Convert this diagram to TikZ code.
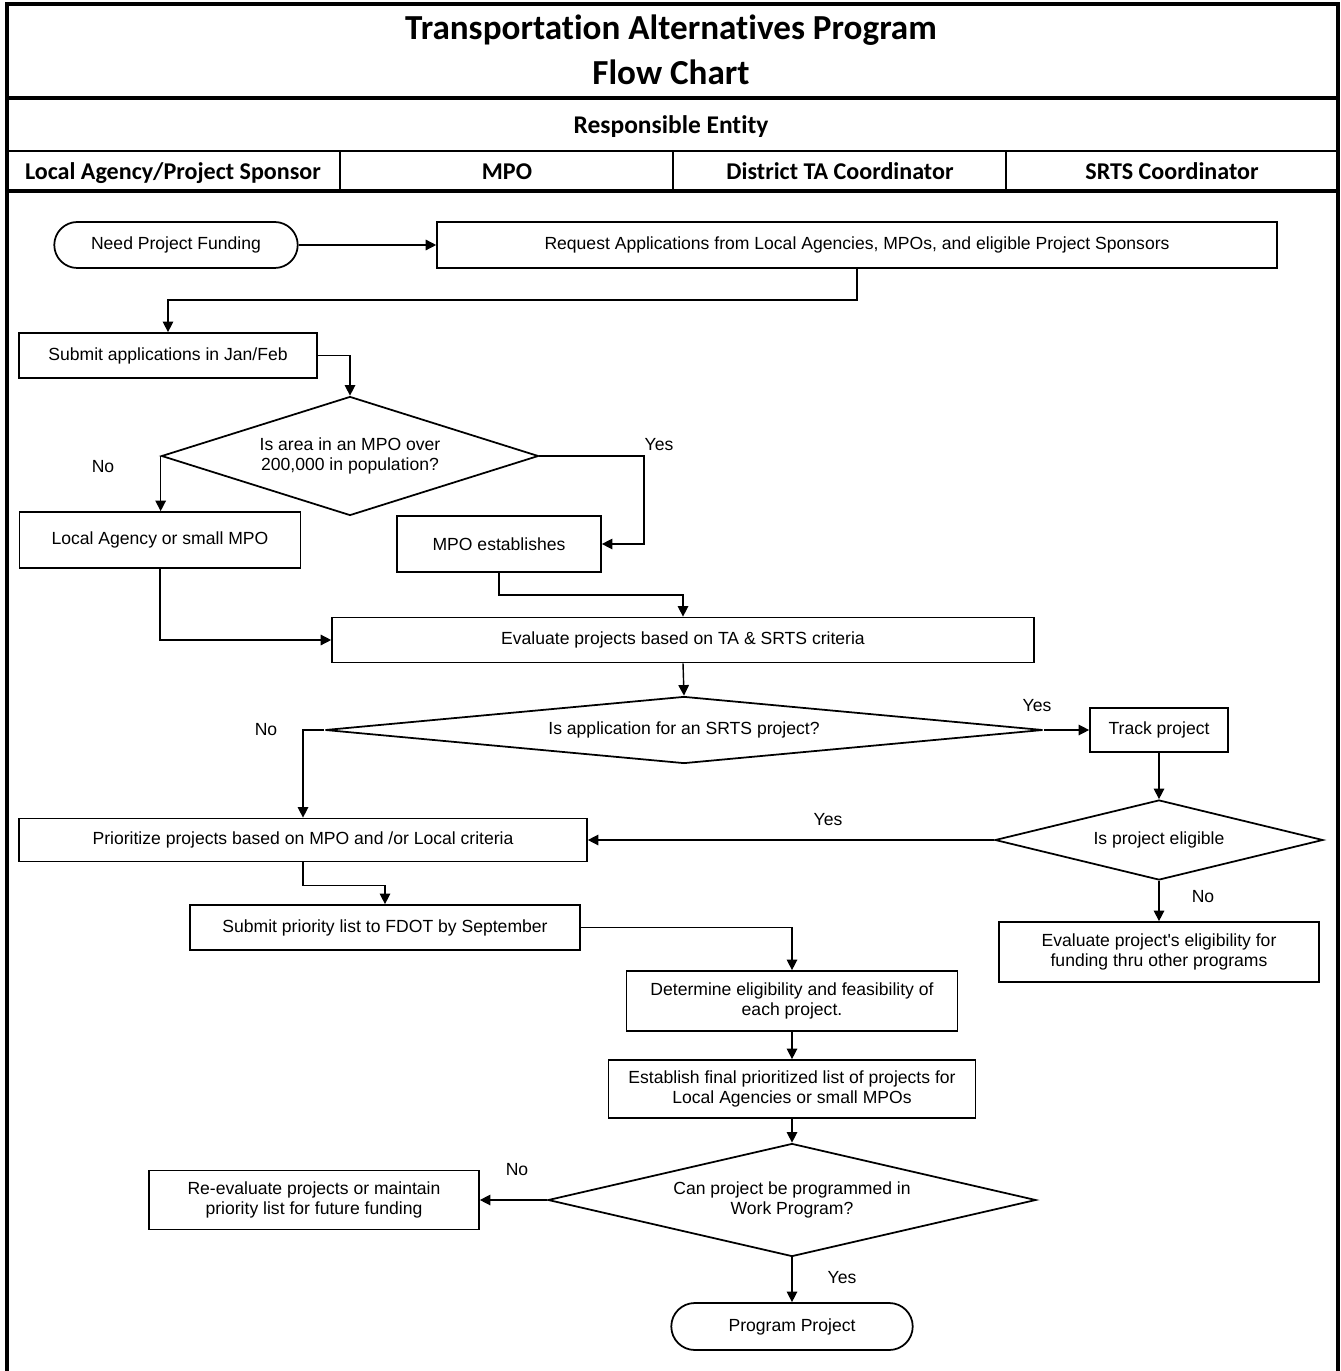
\documentclass[tikz,border=0pt]{standalone}
\usepackage{fontspec}
\setmainfont{Liberation Sans}
\newfontfamily\headfont{Carlito}[Ligatures={NoCommon}]
\usetikzlibrary{arrows.meta,shapes.geometric,shapes.misc,positioning}

\tikzset{
  box/.style={draw, line width=1pt, inner sep=1pt, align=center,
    font=\fontsize{10}{11.5}\selectfont},
  terminal/.style={box, rounded rectangle},
  decision/.style={box, diamond, inner sep=0pt},
  flow/.style={line width=0.8pt, -{Triangle[length=6pt,width=6pt]}},
  lbl/.style={font=\fontsize{10}{11.5}\selectfont},
  titletext/.style={anchor=base, font=\headfont\bfseries\fontsize{20}{24}\selectfont},
  heading/.style={anchor=base, font=\headfont\bfseries\fontsize{13.7}{16}\selectfont},
}

\begin{document}
\begin{tikzpicture}[x=0.02cm, y=-0.02cm]

	\useasboundingbox (0,0) rectangle (1340,1371);

	% Frame and header rows
	\draw[line width=2.2pt] (7,1371) -- (7,4) -- (1338,4) -- (1338,1371);
	\draw[line width=1.8pt] (7,98) -- (1338,98);
	\draw[line width=0.9pt] (7,151) -- (1338,151);
	\draw[line width=1.8pt] (7,191) -- (1338,191);
	\foreach \x in {340,673,1006}
		\draw[line width=0.9pt] (\x,151) -- (\x,191);

	\node[titletext] (title1) at (671,40) {Transportation Alternatives Program};
	\node[titletext] (title2) at (671,85) {Flow Chart};
	\node[heading, font=\headfont\bfseries\fontsize{14.5}{17}\selectfont] (resp) at (671,134) {Responsible Entity};
	\node[heading] (col1) at (173,180) {Local Agency/Project Sponsor};
	\node[heading] (col2) at (507,180) {MPO};
	\node[heading] (col3) at (840,180) {District TA Coordinator};
	\node[heading] (col4) at (1172,180) {SRTS Coordinator};

	% Steps
	\node[terminal, minimum width=4.94cm, minimum height=0.92cm] (need) at (176,245) {Need Project Funding};
	\node[box, minimum width=16.8cm, minimum height=0.92cm] (request) at (857,245) {Request Applications from Local Agencies, MPOs, and eligible Project Sponsors};
	\node[box, minimum width=5.96cm, minimum height=0.9cm] (submit) at (168,355.5) {Submit applications in Jan/Feb};
	\node[decision, aspect=3.2, minimum width=7.54cm, minimum height=2.38cm] (area) at (350,456) {Is area in an MPO over\\200,000 in population?};
	\node[box, minimum width=5.62cm, minimum height=1.12cm] (local) at (160,540) {Local Agency or small MPO};
	\node[box, minimum width=4.08cm, minimum height=1.12cm] (mpo) at (499,544) {MPO establishes};
	\node[box, minimum width=14.04cm, minimum height=0.9cm] (evaluate) at (683,640) {Evaluate projects based on TA \& SRTS criteria};
	\node[decision, aspect=10, minimum width=14.36cm, minimum height=1.34cm] (srts) at (684,730) {Is application for an SRTS project?};
	\node[box, minimum width=2.76cm, minimum height=0.88cm] (track) at (1159,730) {Track project};
	\node[decision, aspect=4, minimum width=6.56cm, minimum height=1.6cm] (eligible) at (1159,840) {Is project eligible};
	\node[box, minimum width=11.36cm, minimum height=0.86cm] (prioritize) at (303,840) {Prioritize projects based on MPO and /or Local criteria};
	\node[box, minimum width=6.4cm, minimum height=1.2cm] (other) at (1159,952) {Evaluate project\textquotesingle s eligibility for\\funding thru other programs};
	\node[box, minimum width=7.8cm, minimum height=0.9cm] (fdot) at (385,927.5) {Submit priority list to FDOT by September};
	\node[box, minimum width=6.62cm, minimum height=1.2cm] (determine) at (792,1001) {Determine eligibility and feasibility of\\each project.};
	\node[box, minimum width=7.34cm, minimum height=1.16cm] (final) at (792,1089) {Establish final prioritized list of projects for\\Local Agencies or small MPOs};
	\node[decision, aspect=4.3, minimum width=9.76cm, minimum height=2.26cm] (program) at (792,1200) {Can project be programmed in\\Work Program?};
	\node[box, minimum width=6.6cm, minimum height=1.18cm] (reeval) at (314,1200) {Re-evaluate projects or maintain\\priority list for future funding};
	\node[terminal, minimum width=4.9cm, minimum height=0.94cm] (done) at (792,1326.5) {Program Project};

	% Connectors
	\draw[flow] (need.east) -- (request.west);
	\draw[flow] (request.south) -- ++(0,31) -| (submit.north);
	\draw[flow] (submit.east) -| (area.north);
	\draw[flow] (area.west) -- (area.west |- local.north);
	\draw[flow] (area.east) -| ([xshift=0.84cm]mpo.east) -- (mpo.east);
	\draw[flow] (mpo.south) -- ++(0,22) -| (evaluate.north);
	\draw[flow] (local.south) |- (evaluate.west);
	\draw[flow] (evaluate.south) -- (srts.north);
	\draw[flow] (srts.west) -| (prioritize.north);
	\draw[flow] (srts.east) -- (track.west);
	\draw[flow] (track.south) -- (eligible.north);
	\draw[flow] (eligible.west) -- (prioritize.east);
	\draw[flow] (eligible.south) -- (other.north);
	\draw[flow] (prioritize.south) -- ++(0,23) -| (fdot.north);
	\draw[flow] (fdot.east) -| (determine.north);
	\draw[flow] (determine.south) -- (final.north);
	\draw[flow] (final.south) -- (program.north);
	\draw[flow] (program.west) -- (reeval.east);
	\draw[flow] (program.south) -- (done.north);

	% Yes / No labels
	\node[lbl] (areano) at (103,467) {No};
	\node[lbl] (areayes) at (659,445) {Yes};
	\node[lbl] (srtsno) at (266,730) {No};
	\node[lbl] (srtsyes) at (1037,706) {Yes};
	\node[lbl] (eligyes) at (828,820) {Yes};
	\node[lbl] (eligno) at (1203,897) {No};
	\node[lbl] (progno) at (517,1170) {No};
	\node[lbl] (progyes) at (842,1278) {Yes};

\end{tikzpicture}
\end{document}
